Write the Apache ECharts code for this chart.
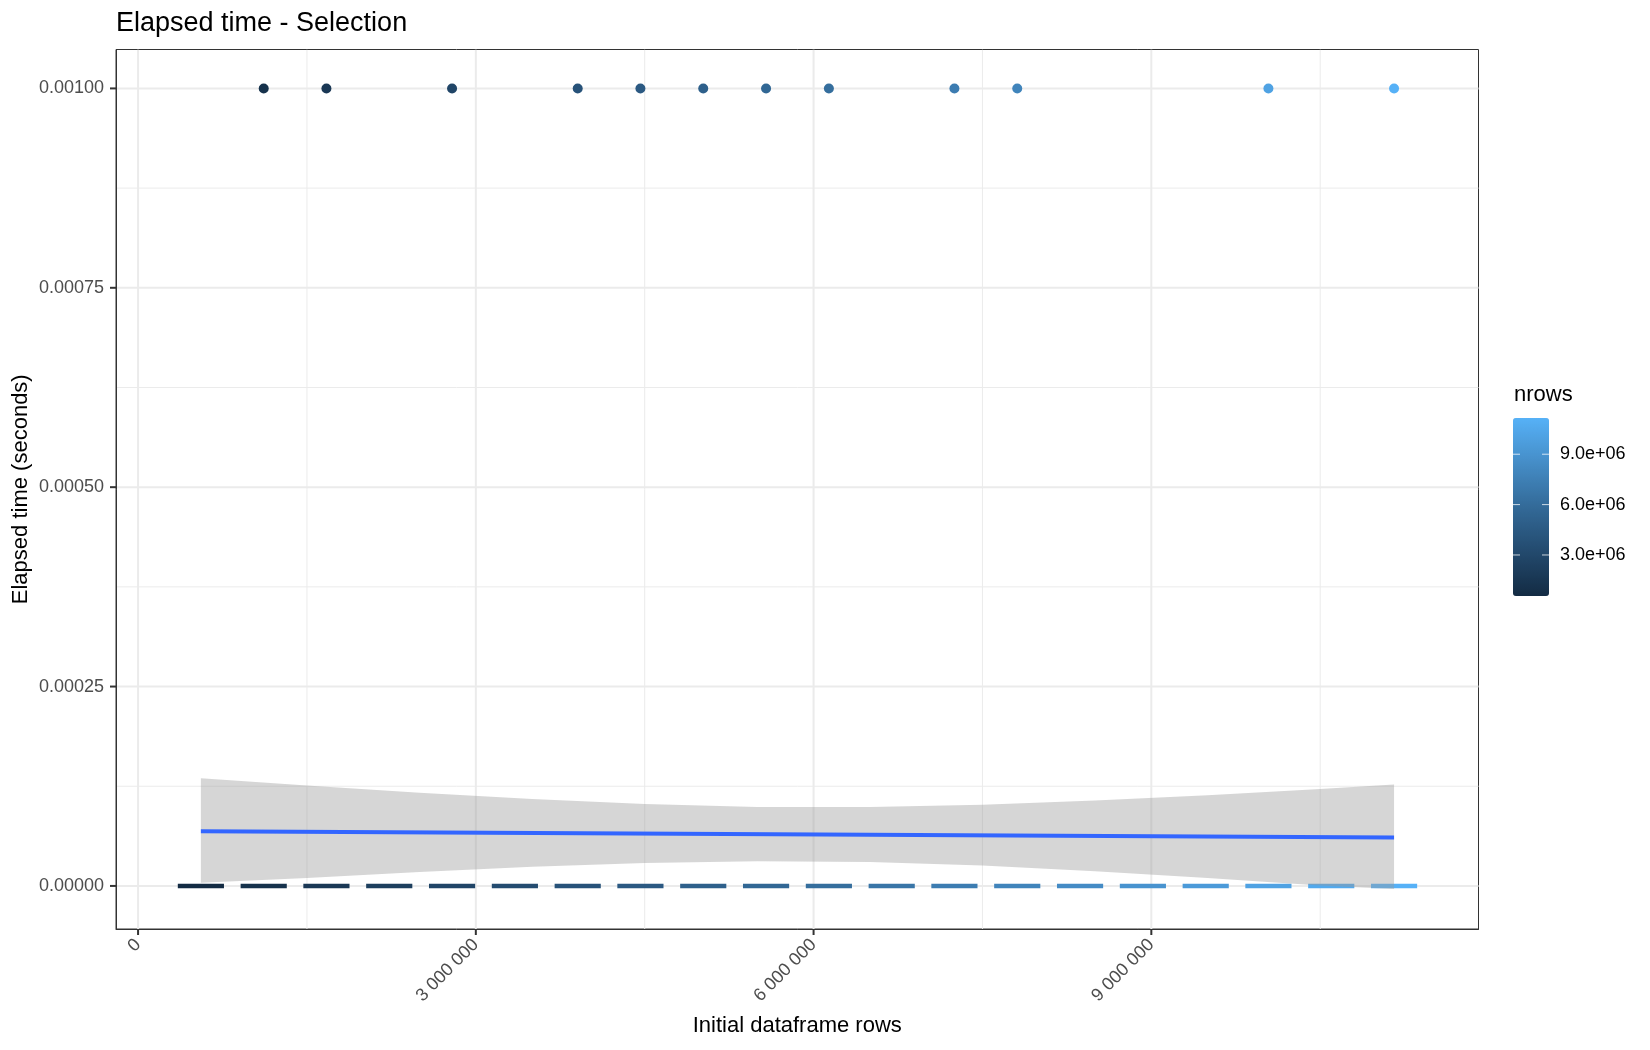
<!DOCTYPE html>
<html><head><meta charset="utf-8">
<script src="https://cdn.jsdelivr.net/npm/echarts@6/dist/echarts.min.js"></script>
<style>html,body{margin:0;padding:0;background:#fff}#c{width:1650px;height:1050px}</style>
</head><body><div id="c"></div>
<script>
// ---- data ----
const pointRows = [1116000, 1673000, 2789000, 3905000, 4462000, 5020000, 5578000, 6136000, 7251000, 7809000, 10040000, 11156000];
const pointSecs = [0.001, 0.001, 0.001, 0.001, 0.001, 0.001, 0.001, 0.001, 0.001, 0.001, 0.001, 0.001];
const dashRows = [558000, 1116000, 1673000, 2231000, 2789000, 3347000, 3905000, 4462000, 5020000, 5578000, 6136000, 6694000, 7251000, 7809000, 8367000, 8925000, 9483000, 10040000, 10598000, 11156000];
const dashSecs = [0,0,0,0,0,0,0,0,0,0,0,0,0,0,0,0,0,0,0,0];
const fitRows = [558000, 11156000];
const fitSecs = [0.0000686, 0.0000607];
const ribbonRows = [558000, 1500000, 2500000, 3500000, 4500000, 5500000, 6500000, 7500000, 8500000, 9500000, 10500000, 11156000];
const ribbonUpper = [0.0001351, 0.0001259, 0.0001169, 0.0001089, 0.0001027, 0.0000991, 0.0000989, 0.0001017, 0.0001071, 0.0001138, 0.0001217, 0.0001272];
const ribbonLower = [0.0000040, 0.0000100, 0.0000175, 0.0000239, 0.0000287, 0.0000310, 0.0000300, 0.0000255, 0.0000185, 0.0000100, 0.0000007, -0.0000040];
const xTicks = [0, 3000000, 6000000, 9000000];
const xMinor = [1500000, 4500000, 7500000, 10500000];
const yTicks = [0, 0.00025, 0.0005, 0.00075, 0.001];
const yMinor = [0.000125, 0.000375, 0.000625, 0.000875];
const legendTicks = [3000000, 6000000, 9000000];
const legendLabels = ['3.0e+06', '6.0e+06', '9.0e+06'];
const colorMin = 557800, colorMax = 11156000;

// ---- layout / style ----
const FONT = '"Liberation Sans", Arial, Helvetica, sans-serif';
const GRID = {left: 116, right: 171.5, top: 49.5, bottom: 121};
const LEG = {left: 1513, top: 418, w: 36, h: 178};
const DASH_HALF = 205000;
const TICK_LEN = 6;
const gradient = ['#132B43', '#234A6E', '#336A98', '#458DC7', '#56B1F7'];

const chart = echarts.init(document.getElementById('c'), null, {renderer: 'canvas'});

// gridline records: [axis (0 = vertical line at x, 1 = horizontal line at y), value, width]
const gridData = [];
xTicks.forEach(v => gridData.push([0, v, 2]));
xMinor.forEach(v => gridData.push([0, v, 1]));
yTicks.forEach(v => gridData.push([1, v, 2]));
yMinor.forEach(v => gridData.push([1, v, 1]));
// tick records: [axis, value]
const tickData = [];
xTicks.forEach(v => tickData.push([0, v]));
yTicks.forEach(v => tickData.push([1, v]));

const fmtX = v => String(Math.round(v)).replace(/\B(?=(\d{3})+(?!\d))/g, ' ');

const graphics = [];
legendTicks.forEach((v, i) => {
  const y = LEG.top + (colorMax - v) / (colorMax - colorMin) * LEG.h;
  graphics.push({type: 'line', silent: true, z: 100, shape: {x1: LEG.left, y1: y, x2: LEG.left + 7, y2: y}, style: {stroke: 'rgba(255,255,255,0.75)', lineWidth: 1}});
  graphics.push({type: 'line', silent: true, z: 100, shape: {x1: LEG.left + LEG.w - 7, y1: y, x2: LEG.left + LEG.w, y2: y}, style: {stroke: 'rgba(255,255,255,0.75)', lineWidth: 1}});
  graphics.push({type: 'text', silent: true, z: 100, style: {text: legendLabels[i], x: 1560, y: y, fontSize: 18, fontFamily: FONT, fill: '#000', verticalAlign: 'middle', align: 'left'}});
});
graphics.push({type: 'text', silent: true, z: 100, style: {text: 'nrows', x: 1514, y: 395, fontSize: 22, fontFamily: FONT, fill: '#000', verticalAlign: 'middle', align: 'left'}});

const option = {
  animation: false,
  backgroundColor: '#fff',
  title: {text: 'Elapsed time - Selection', left: 116, top: 10, padding: 0,
    textStyle: {fontFamily: FONT, fontSize: 27, fontWeight: 'normal', color: '#000'}},
  grid: Object.assign({show: true, borderColor: '#333333', borderWidth: 1, backgroundColor: '#fff', containLabel: false, outerBoundsMode: 'none'}, GRID),
  xAxis: {
    type: 'value', min: -196000, max: 11906000,
    name: 'Initial dataframe rows', nameLocation: 'middle', nameGap: 86, nameMoveOverlap: false,
    nameTextStyle: {fontFamily: FONT, fontSize: 22, color: '#000'},
    axisLine: {show: true, onZero: false, lineStyle: {color: '#333333', width: 1}},
    axisTick: {show: false},
    axisLabel: {show: true, customValues: xTicks, rotate: 45, margin: 13, formatter: fmtX, fontFamily: FONT, fontSize: 18, color: '#4D4D4D'},
    splitLine: {show: false}, minorSplitLine: {show: false}
  },
  yAxis: {
    type: 'value', min: -0.000054, max: 0.0010488,
    name: 'Elapsed time (seconds)', nameLocation: 'middle', nameGap: 84, nameRotate: 90, nameMoveOverlap: false,
    nameTextStyle: {fontFamily: FONT, fontSize: 22, color: '#000'},
    axisLine: {show: true, onZero: false, lineStyle: {color: '#333333', width: 1}},
    axisTick: {show: false},
    axisLabel: {show: true, customValues: yTicks, margin: 12, formatter: v => v.toFixed(5), fontFamily: FONT, fontSize: 18, color: '#4D4D4D'},
    splitLine: {show: false}, minorSplitLine: {show: false}
  },
  visualMap: {
    type: 'continuous', min: colorMin, max: colorMax, dimension: 0,
    seriesIndex: [1, 2], inRange: {color: gradient},
    left: LEG.left, top: LEG.top, itemWidth: LEG.w, itemHeight: LEG.h,
    padding: 0, calculable: false, realtime: false, text: null, show: true, hoverLink: false
  },
  series: [
    {type: 'custom', name: 'gridlines', z: 0, silent: true, clip: true,
      data: gridData,
      encode: {x: -1, y: -1},
      renderItem: function (params, api) {
        const cs = params.coordSys;
        const axis = api.value(0), v = api.value(1), w = api.value(2);
        let shape;
        if (axis === 0) {
          const px = api.coord([v, 0])[0];
          shape = {x1: px, y1: cs.y, x2: px, y2: cs.y + cs.height};
        } else {
          const py = api.coord([0, v])[1];
          shape = {x1: cs.x, y1: py, x2: cs.x + cs.width, y2: py};
        }
        return {type: 'line', shape: shape, style: {stroke: '#EBEBEB', lineWidth: w}};
      }},
    {type: 'custom', name: 'dashes', z: 2, silent: true,
      data: dashRows.map((x, i) => [x, dashSecs[i]]),
      renderItem: function (params, api) {
        const c = api.coord([api.value(0), api.value(1)]);
        const half = api.size([DASH_HALF, 0])[0];
        return {type: 'line', shape: {x1: c[0] - half, y1: c[1], x2: c[0] + half, y2: c[1]},
          style: {stroke: api.visual('color'), lineWidth: 4.5, lineCap: 'butt'}};
      }},
    {type: 'scatter', name: 'points', z: 3, silent: true, symbol: 'circle', symbolSize: 10,
      itemStyle: {opacity: 1},
      data: pointRows.map((x, i) => [x, pointSecs[i]])},
    {type: 'custom', name: 'ribbon', z: 4, silent: true, clip: true,
      data: ribbonRows.map((x, i) => [x, ribbonLower[i], ribbonUpper[i]]),
      encode: {x: 0, y: [1, 2]},
      renderItem: function (params, api) {
        if (params.dataIndex !== 0) return null;
        const pts = [];
        for (let i = 0; i < ribbonRows.length; i++) pts.push(api.coord([ribbonRows[i], ribbonUpper[i]]));
        for (let i = ribbonRows.length - 1; i >= 0; i--) pts.push(api.coord([ribbonRows[i], ribbonLower[i]]));
        return {type: 'polygon', shape: {points: pts}, style: {fill: 'rgba(153,153,153,0.4)', stroke: null}};
      }},
    {type: 'line', name: 'fit', z: 5, silent: true, symbol: 'none',
      data: fitRows.map((x, i) => [x, fitSecs[i]]),
      lineStyle: {color: '#3366FF', width: 4}},
    {type: 'custom', name: 'ticks', z: 10, silent: true, clip: false,
      data: tickData,
      encode: {x: -1, y: -1},
      renderItem: function (params, api) {
        const cs = params.coordSys;
        const axis = api.value(0), v = api.value(1);
        let shape;
        if (axis === 0) {
          const px = api.coord([v, 0])[0];
          shape = {x1: px, y1: cs.y + cs.height, x2: px, y2: cs.y + cs.height + TICK_LEN};
        } else {
          const py = api.coord([0, v])[1];
          shape = {x1: cs.x - TICK_LEN, y1: py, x2: cs.x, y2: py};
        }
        return {type: 'line', shape: shape, style: {stroke: '#333333', lineWidth: 2}};
      }}
  ],
  graphic: graphics
};
chart.setOption(option);
</script>
</body></html>
